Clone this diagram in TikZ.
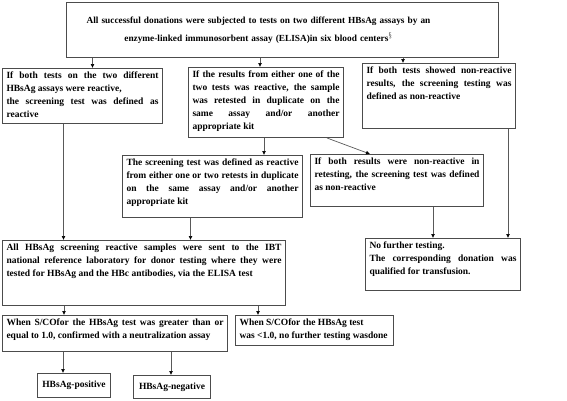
\documentclass[tikz,border=0pt]{standalone}
\usepackage{fontspec}
\setmainfont{Liberation Serif}
\usetikzlibrary{arrows.meta}
\hyphenpenalty=10000
\exhyphenpenalty=10000
\tolerance=9999
\emergencystretch=3em
\tikzset{box/.style = {draw=black!70, line width=1pt, anchor=north west, inner xsep=4pt, inner ysep=3pt, font=\bfseries\fontsize{9.5}{13}\selectfont}}
\tikzset{arrow/.style = {draw=black!65, line width=0.7pt, -{Latex[length=4pt,width=4pt,black]}}}
\newcommand{\flowtext}[3]{\begin{minipage}[t][#2pt][t]{#1pt}#3\end{minipage}}

\begin{document}
\begin{tikzpicture}[x=1pt,y=-1pt]
\useasboundingbox (0,0) rectangle (567,400);
\node [box, text width=424, minimum height=55, align=center, font=\bfseries\fontsize{9.3}{18}\selectfont] (top) at (66,2) {\hspace*{-48pt}All successful donations were subjected to tests on two different HBsAg assays by an\\ \hspace*{-48pt}enzyme-linked immunosorbent assay (ELISA)in six blood centers$^{\S}$\\[2pt]};

\node [box] (a) at (2,68) {\flowtext{152}{49}{If both tests on the two different\linebreak HBsAg assays were reactive,\newline the screening test was defined as\linebreak reactive}};
\node [box] (b) at (188,67) {\flowtext{147}{64}{If the results from either one of the\linebreak two tests was reactive, the sample\linebreak was retested in duplicate on the\linebreak same assay and/or another\linebreak appropriate kit}};
\node [box] (c) at (362,63) {\flowtext{145}{59}{If both tests showed non-reactive\linebreak results, the screening testing was\linebreak defined as non-reactive}};

\node [box] (d) at (122,155) {\flowtext{172}{56}{The screening test was defined as reactive\linebreak from either one or two retests in duplicate\linebreak on the same assay and/or another\linebreak appropriate kit}};
\node [box] (e) at (310,154) {\flowtext{165}{46}{If both results were non-reactive in\linebreak retesting, the screening test was defined\linebreak as non-reactive}};

\node [box] (f) at (2,240) {\flowtext{275}{59}{All HBsAg screening reactive samples were sent to the IBT\linebreak national reference laboratory for donor testing where they were\linebreak tested for HBsAg and the HBc antibodies, via the ELISA test}};
\node [box] (g) at (365,238) {\flowtext{147}{46}{No further testing.\newline The corresponding donation was\linebreak qualified for transfusion.}};

\node [box] (h) at (2,315) {\flowtext{217}{30}{When S/COfor the HBsAg test was greater than or\linebreak equal to 1.0, confirmed with a neutralization assay}};
\node [box] (i) at (235,315) {\flowtext{150}{24}{When S/COfor the HBsAg test\newline was <1.0, no further testing wasdone}};

\node [box, minimum width=73, minimum height=24] (j) at (37,373) {HBsAg-positive};
\node [box, minimum width=77, minimum height=23] (k) at (133,375) {HBsAg-negative};

\draw [arrow] ([xshift=10]a.north |- top.south) -- ([xshift=10]a.north);
\draw [arrow] ([xshift=-6]b.north |- top.south) -- ([xshift=-6]b.north);
\draw [arrow] ([xshift=-36]c.north |- top.south) -- ([xshift=-36]c.north);

\draw [arrow] ([xshift=-19]a.south) -- ([xshift=-19]a.south |- f.north);
\draw [arrow] ([xshift=-2]b.south) -- ([xshift=-2]b.south |- d.north);
\draw [arrow] ([xshift=-17]b.south east) -- ([xshift=60]e.north west);
\draw [arrow] ([xshift=-8]c.south east) -- ([xshift=-8]c.south east |- g.north);

\draw [arrow] ([xshift=-22]d.south) -- ([xshift=-22]d.south |- f.north);
\draw [arrow] ([xshift=36]e.south) -- ([xshift=36]e.south |- g.north);

\draw [arrow] ([xshift=-80]f.south) -- ([xshift=-80]f.south |- h.north);
\draw [arrow] ([xshift=114]f.south) -- ([xshift=114]f.south |- i.north);

\draw [arrow] ([xshift=-52]h.south) -- ([xshift=-52]h.south |- j.north);
\draw [arrow] ([xshift=56]h.south) -- ([xshift=56]h.south |- k.north);
\end{tikzpicture}
\end{document}
